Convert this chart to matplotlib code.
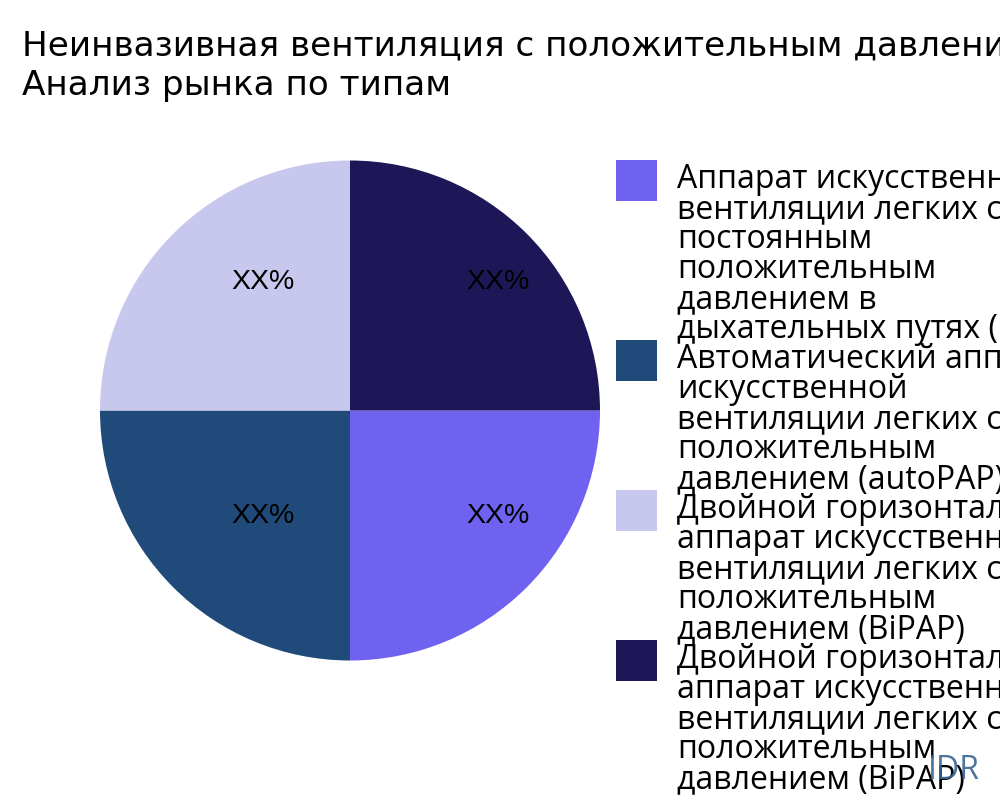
import matplotlib
matplotlib.use("Agg")
import matplotlib.pyplot as plt
from matplotlib.patches import Rectangle

# ---- data ----
title_lines = ["Неинвазивная вентиляция с положительным давлением",
               "Анализ рынка по типам"]
categories = [
    "Аппарат искусственной\nвентиляции легких с\nпостоянным\nположительным\nдавлением в\nдыхательных путях (CPAP)",
    "Автоматический аппарат\nискусственной\nвентиляции легких с\nположительным\nдавлением (autoPAP)",
    "Двойной горизонтальный\nаппарат искусственной\nвентиляции легких с\nположительным\nдавлением (BiPAP)",
    "Двойной горизонтальный\nаппарат искусственной\nвентиляции легких с\nположительным\nдавлением (BiPAP)",
]
values = [25, 25, 25, 25]
slice_text = ["XX%", "XX%", "XX%", "XX%"]
colors = ["#7062F0", "#1F4A7A", "#C8C8EF", "#1D1757"]
watermark = "IDR"

W, H = 1000, 800
fig = plt.figure(figsize=(W / 100, H / 100), dpi=100)
fig.patch.set_facecolor("white")

def fx(px):
    return px / W

def fy(py):
    return 1 - py / H

# pie axes: centre (350, 410.5), radius 250 px
cx, cy, r = 350, 410.5, 250
ax = fig.add_axes([fx(cx - r), fy(cy + r), 2 * r / W, 2 * r / H])
wedges, _texts, autotexts = ax.pie(
    values, colors=colors, startangle=0, counterclock=False,
    autopct="%1.0f%%", radius=1.0, wedgeprops=dict(linewidth=0),
    textprops=dict(color="black", fontsize=20.5, family="Liberation Sans"))
# inside-label anchor positions (fraction of radius), style only
label_pos = [(0.592, -0.422), (-0.348, -0.422), (-0.348, 0.515), (0.592, 0.515)]
for t, s, p in zip(autotexts, slice_text, label_pos):
    t.set_text(s)
    t.set_position(p)
    t.set_ha("center")
    t.set_va("center")
ax.set_xlim(-1, 1)
ax.set_ylim(-1, 1)
ax.set_aspect("equal")
ax.axis("off")

# title
for i, line in enumerate(title_lines):
    fig.text(fx(22), fy(55 + i * 40.5), line, fontsize=24.7, family="DejaVu Sans",
             color="black", ha="left", va="baseline")

# legend (manual, Plotly-like, overlapping into right edge)
sq = 41
line_h = 30
y_top = 160
for cat, col in zip(categories, colors):
    fig.patches.append(Rectangle((fx(616), fy(y_top + sq)), sq / W, sq / H,
                                 transform=fig.transFigure, facecolor=col,
                                 edgecolor="none"))
    lines = cat.split("\n")
    for k, ln in enumerate(lines):
        fig.text(fx(677), fy(y_top + 28 + k * line_h), ln, fontsize=23,
                 family="Open Sans", color="black", ha="left", va="baseline")
    y_top += line_h * len(lines)

# watermark
fig.text(fx(928), fy(779), watermark, fontsize=23, family="Open Sans",
         color="#3A6590", alpha=0.9, ha="left", va="baseline")

fig.savefig("out.png", dpi=100, facecolor="white")
